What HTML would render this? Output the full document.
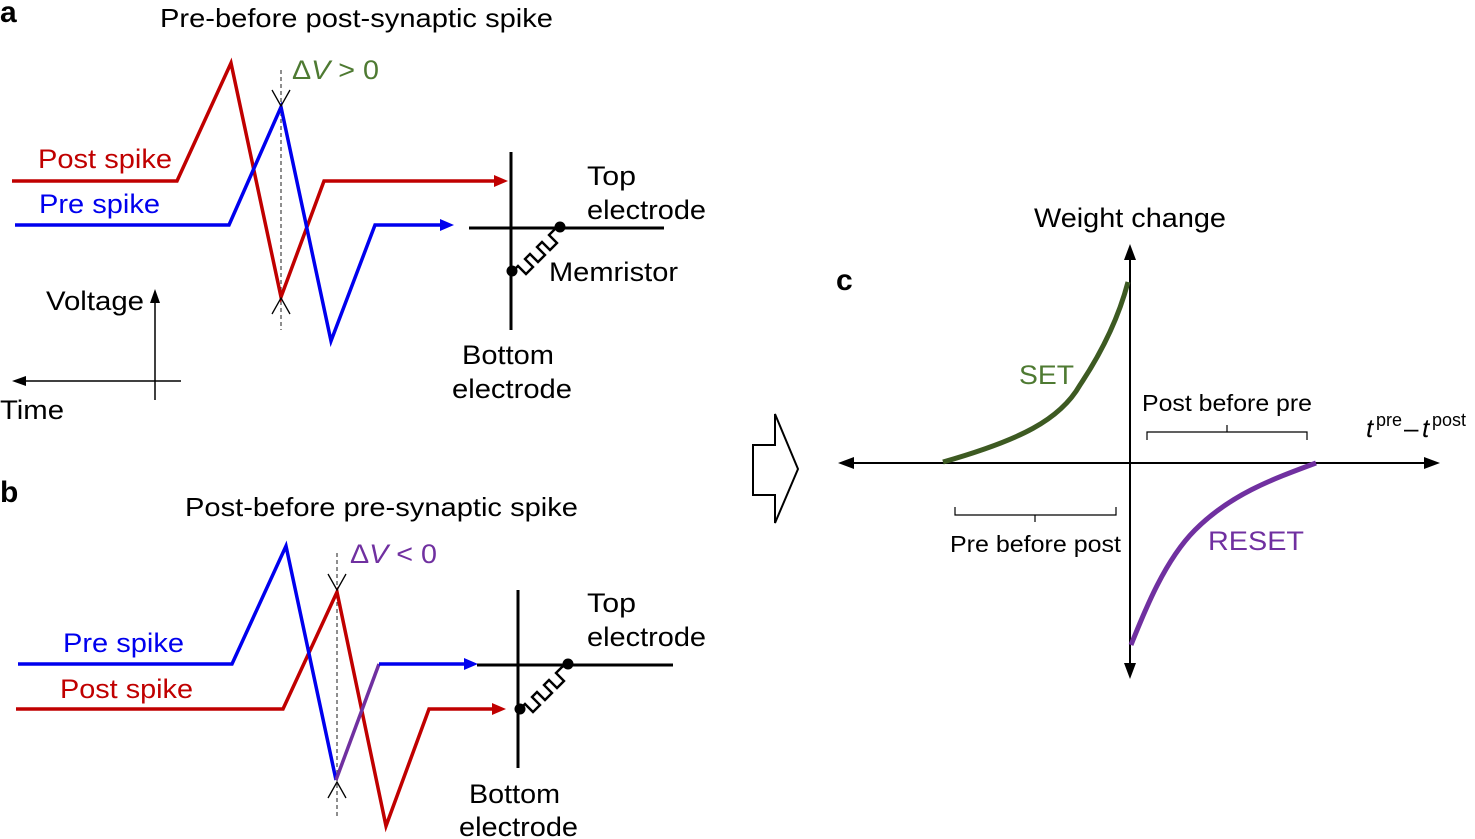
<!DOCTYPE html>
<html><head><meta charset="utf-8"><style>
html,body{margin:0;padding:0;background:#fff;}
svg{display:block;font-family:"Liberation Sans",Arial,sans-serif;}
</style></head><body>
<svg width="1475" height="839" viewBox="0 0 1475 839" xmlns="http://www.w3.org/2000/svg">
<!-- labels -->
<text x="0" y="22" font-size="30" font-weight="bold">a</text>
<text x="0" y="502" font-size="30" font-weight="bold">b</text>
<text x="836" y="290" font-size="30" font-weight="bold">c</text>
<text x="160" y="27" font-size="26" textLength="393" lengthAdjust="spacingAndGlyphs">Pre-before post-synaptic spike</text>
<text x="185" y="516" font-size="26" textLength="393" lengthAdjust="spacingAndGlyphs">Post-before pre-synaptic spike</text>

<!-- Panel a -->
<line x1="281" y1="70" x2="281" y2="330" stroke="#444" stroke-width="1.2" stroke-dasharray="4,3"/>
<polyline points="12,181 177,181 231,63 281,297 324,181 497,181" fill="none" stroke="#c00000" stroke-width="3.5"/>
<path d="M494,175 L508,181 L494,187 Z" fill="#c00000"/>
<polyline points="15,225 229,225 281,107 331,341 375,225 442,225" fill="none" stroke="#0000ee" stroke-width="3.5"/>
<path d="M440,219 L454,225 L440,231 Z" fill="#0000ee"/>
<path d="M272,90 L281,106 L290,90 M272,314 L281,298 L290,314" fill="none" stroke="#000" stroke-width="1.3"/>
<text x="292" y="79" font-size="27" fill="#4e7a32" textLength="87" lengthAdjust="spacingAndGlyphs"><tspan>Δ</tspan><tspan font-style="italic">V</tspan> &gt; 0</text>
<text x="38" y="168" font-size="27" fill="#c00000" textLength="134" lengthAdjust="spacingAndGlyphs">Post spike</text>
<text x="39" y="213" font-size="27" fill="#0000ee" textLength="121" lengthAdjust="spacingAndGlyphs">Pre spike</text>
<!-- electrode a -->
<line x1="511" y1="152" x2="511" y2="330" stroke="#000" stroke-width="3"/>
<line x1="469" y1="228" x2="664" y2="228" stroke="#000" stroke-width="3"/>
<polyline points="513,271 518,266 526,274 533,267 525,259 530,254 538,262 545,255 537,247 542,242 550,250 557,243 549,235 555,229 560,227" fill="none" stroke="#000" stroke-width="2.4"/>
<circle cx="560" cy="227" r="5.5" fill="#000"/><circle cx="512" cy="271" r="5.5" fill="#000"/>
<text x="587" y="185" font-size="27" textLength="49" lengthAdjust="spacingAndGlyphs">Top</text>
<text x="587" y="219" font-size="27" textLength="119" lengthAdjust="spacingAndGlyphs">electrode</text>
<text x="549" y="281" font-size="27" textLength="129" lengthAdjust="spacingAndGlyphs">Memristor</text>
<text x="462" y="364" font-size="27" textLength="92" lengthAdjust="spacingAndGlyphs">Bottom</text>
<text x="452" y="398" font-size="27" textLength="120" lengthAdjust="spacingAndGlyphs">electrode</text>
<!-- voltage/time axes -->
<line x1="181" y1="381" x2="20" y2="381" stroke="#000" stroke-width="1.5"/>
<path d="M12,381 L26,376 L26,386 Z"/>
<line x1="155" y1="400" x2="155" y2="298" stroke="#000" stroke-width="1.5"/>
<path d="M155,289 L150,303 L160,303 Z"/>
<text x="46" y="310" font-size="27" textLength="98" lengthAdjust="spacingAndGlyphs">Voltage</text>
<text x="0" y="419" font-size="27" textLength="64" lengthAdjust="spacingAndGlyphs">Time</text>

<!-- Panel b -->
<line x1="337" y1="553" x2="337" y2="817" stroke="#444" stroke-width="1.2" stroke-dasharray="4,3"/>
<polyline points="16,709 283,709 337,592 386,826 429,709 494,709" fill="none" stroke="#c00000" stroke-width="3.5"/>
<path d="M492,703 L506,709 L492,715 Z" fill="#c00000"/>
<polyline points="18,664 232,664 286,546 336,780" fill="none" stroke="#0000ee" stroke-width="3.5"/>
<polyline points="336,780 379,664" fill="none" stroke="#7030a0" stroke-width="3.5"/>
<polyline points="379,664 466,664" fill="none" stroke="#0000ee" stroke-width="3.5"/>
<path d="M464,658 L478,664 L464,670 Z" fill="#0000ee"/>
<path d="M328,574 L337,590 L346,574 M328,798 L337,782 L346,798" fill="none" stroke="#000" stroke-width="1.3"/>
<text x="350" y="563" font-size="27" fill="#7030a0" textLength="87" lengthAdjust="spacingAndGlyphs"><tspan>Δ</tspan><tspan font-style="italic">V</tspan> &lt; 0</text>
<text x="63" y="652" font-size="27" fill="#0000ee" textLength="121" lengthAdjust="spacingAndGlyphs">Pre spike</text>
<text x="60" y="698" font-size="27" fill="#c00000" textLength="133" lengthAdjust="spacingAndGlyphs">Post spike</text>
<line x1="518" y1="590" x2="518" y2="768" stroke="#000" stroke-width="3"/>
<line x1="477" y1="665" x2="673" y2="665" stroke="#000" stroke-width="3"/>
<polyline points="520,709 525,704 533,712 540,705 532,697 537,692 545,700 552,693 544,685 549,680 557,688 564,681 556,673 562,667 568,664" fill="none" stroke="#000" stroke-width="2.4"/>
<circle cx="568" cy="664" r="5.5" fill="#000"/><circle cx="520" cy="709" r="5.5" fill="#000"/>
<text x="587" y="612" font-size="27" textLength="49" lengthAdjust="spacingAndGlyphs">Top</text>
<text x="587" y="646" font-size="27" textLength="119" lengthAdjust="spacingAndGlyphs">electrode</text>
<text x="469" y="803" font-size="27" textLength="91" lengthAdjust="spacingAndGlyphs">Bottom</text>
<text x="459" y="836" font-size="27" textLength="119" lengthAdjust="spacingAndGlyphs">electrode</text>

<!-- hollow arrow -->
<polygon points="753,445 775,445 775,414 798,469 775,523 775,495 753,495" fill="#fff" stroke="#000" stroke-width="2"/>

<!-- Panel c -->
<line x1="850" y1="463" x2="1428" y2="463" stroke="#000" stroke-width="2"/>
<path d="M838,463 L854,457 L854,469 Z"/><path d="M1440,463 L1424,457 L1424,469 Z"/>
<line x1="1130" y1="258" x2="1130" y2="666" stroke="#000" stroke-width="2"/>
<path d="M1130,244 L1124,260 L1136,260 Z"/><path d="M1130,679 L1124,663 L1136,663 Z"/>
<path d="M943,462 C1020,440 1060,420 1080,385 C1100,355 1118,320 1128,282" fill="none" stroke="#3d5a22" stroke-width="5"/>
<path d="M1131,645 C1145,610 1165,560 1195,530 C1230,495 1270,480 1316,463" fill="none" stroke="#7030a0" stroke-width="5"/>
<text x="1034" y="227" font-size="27" textLength="192" lengthAdjust="spacingAndGlyphs">Weight change</text>
<text x="1019" y="384" font-size="27" fill="#4e7a32" textLength="55" lengthAdjust="spacingAndGlyphs">SET</text>
<text x="1208" y="550" font-size="27" fill="#7030a0" textLength="96" lengthAdjust="spacingAndGlyphs">RESET</text>
<text x="1142" y="411" font-size="23" textLength="170" lengthAdjust="spacingAndGlyphs">Post before pre</text>
<text x="950" y="552" font-size="23" textLength="171" lengthAdjust="spacingAndGlyphs">Pre before post</text>
<path d="M1147,440 L1147,432 L1307,432 L1307,440 M1227,432 L1227,425" fill="none" stroke="#000" stroke-width="1.2"/>
<path d="M955,507 L955,515 L1116,515 L1116,507 M1035,515 L1035,522" fill="none" stroke="#000" stroke-width="1.2"/>
<text x="1366" y="437" font-size="26" font-style="italic">t</text>
<text x="1376" y="426" font-size="18">pre</text>
<text x="1404" y="437" font-size="26">–</text>
<text x="1422" y="437" font-size="26" font-style="italic">t</text>
<text x="1432" y="426" font-size="18">post</text>
</svg>
</body></html>
